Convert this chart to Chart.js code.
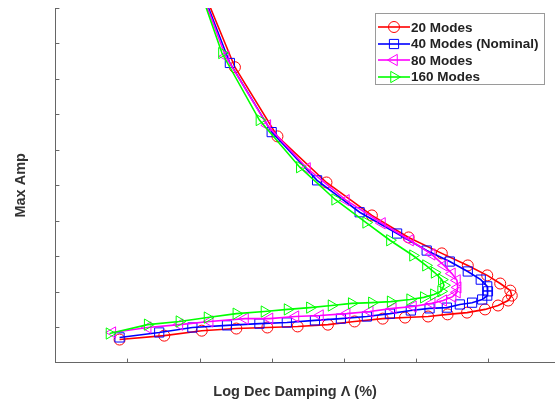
<!DOCTYPE html>
<html>
<head>
<meta charset="utf-8">
<script src="https://cdn.jsdelivr.net/npm/chart.js@4"></script>
<style>
  body { margin: 0; background: #fff; }
  #wrap { position: relative; width: 555px; height: 410px; }
  #legend {
    position: absolute; left: 375px; top: 13px; width: 170px; height: 72px;
    border: 1px solid #9a9a9a; background: #fff;
    font: bold 13.5px "Liberation Sans", Arial, sans-serif; color: #222;
    box-sizing: border-box; padding-top: 5px; white-space: nowrap;
  }
  #legend .row { display: flex; align-items: center; height: 16.5px; }
  #legend canvas { margin-left: 2px; margin-right: 1px; }
</style>
</head>
<body>
<div id="wrap">
  <canvas id="myChart" width="555" height="410"></canvas>
  <div id="legend"></div>
</div>
<script>
const seriesNames = ["20 Modes", "40 Modes (Nominal)", "80 Modes", "160 Modes"];
const seriesColors = ["#ff0000", "#0000ff", "#ff00ff", "#00ff00"];

// 20 modes
const x20 = [2.03, 2.49, 3.08, 3.76, 4.39, 4.90, 5.36, 5.72, 5.99, 6.17, 6.31, 6.33, 6.28, 6.14,
  5.96, 5.71, 5.44, 5.17, 4.85, 4.54, 4.15, 3.78, 3.36, 2.94, 2.51, 2.03, 1.51, 0.89];
const y20 = [10.6, 8.33, 6.38, 5.08, 4.15, 3.53, 3.08, 2.74, 2.46, 2.23, 2.03, 1.89, 1.75, 1.61,
  1.50, 1.41, 1.36, 1.30, 1.27, 1.24, 1.16, 1.07, 1.02, 0.99, 0.96, 0.90, 0.76, 0.65];

// 40 modes (nominal)
const x40 = [2.01, 2.42, 3.00, 3.63, 4.22, 4.74, 5.15, 5.47, 5.72, 5.90, 5.99, 6.00, 5.99, 5.92,
  5.78, 5.61, 5.43, 5.19, 4.93, 4.64, 4.32, 3.96, 3.60, 3.21, 2.83, 2.38, 1.90, 1.44, 0.89];
const y40 = [10.6, 8.45, 6.50, 5.14, 4.24, 3.64, 3.16, 2.85, 2.57, 2.34, 2.15, 2.01, 1.89, 1.78,
  1.69, 1.64, 1.55, 1.53, 1.47, 1.38, 1.30, 1.24, 1.19, 1.13, 1.10, 1.05, 0.99, 0.85, 0.71];

// 80 modes
const x80 = [2.00, 2.36, 2.94, 3.49, 4.03, 4.53, 4.92, 5.22, 5.39, 5.50, 5.57, 5.58, 5.57, 5.51,
  5.38, 5.22, 4.96, 4.68, 4.36, 4.04, 3.67, 3.33, 2.97, 2.63, 2.14, 1.72, 1.28, 0.79];
const y80 = [10.6, 8.64, 6.69, 5.48, 4.58, 3.93, 3.45, 3.05, 2.74, 2.51, 2.32, 2.12, 1.98, 1.86,
  1.75, 1.67, 1.58, 1.53, 1.44, 1.38, 1.33, 1.30, 1.24, 1.24, 1.16, 1.07, 0.99, 0.85];

// 160 modes
const x160 = [1.99, 2.31, 2.83, 3.39, 3.88, 4.31, 4.64, 4.96, 5.14, 5.26, 5.36, 5.39, 5.35, 5.25,
  5.11, 4.92, 4.65, 4.39, 4.11, 3.83, 3.53, 3.22, 2.90, 2.51, 2.11, 1.72, 1.28, 0.75];
const y160 = [10.6, 8.73, 6.84, 5.51, 4.60, 3.95, 3.45, 3.02, 2.74, 2.54, 2.34, 2.18, 2.01, 1.92,
  1.84, 1.78, 1.72, 1.69, 1.67, 1.61, 1.55, 1.50, 1.44, 1.38, 1.27, 1.16, 1.07, 0.82];

const xTicks = [1, 2, 3, 4, 5, 6];
const yTicks = [1, 2, 3, 4, 5, 6, 7, 8, 9, 10];

const markerStyles = [
  { pointStyle: "circle", radius: 5.5, rotation: 0 },
  { pointStyle: "rect", radius: 6.5, rotation: 0 },
  { pointStyle: "triangle", radius: 6.5, rotation: -90 },
  { pointStyle: "triangle", radius: 6.5, rotation: 90 },
];

const toPoints = (xs, ys) => xs.map((x, i) => ({ x: x, y: ys[i] }));
const allX = [x20, x40, x80, x160];
const allY = [y20, y40, y80, y160];

const datasets = seriesNames.map((name, i) => ({
  label: name,
  data: toPoints(allX[i], allY[i]),
  showLine: true,
  borderColor: seriesColors[i],
  borderWidth: 1.6,
  pointStyle: markerStyles[i].pointStyle,
  pointRadius: markerStyles[i].radius,
  pointRotation: markerStyles[i].rotation,
  pointBorderColor: seriesColors[i],
  pointBackgroundColor: "rgba(0,0,0,0)",
  pointBorderWidth: 1,
  order: 4 - i,
}));

// inward tick marks like the original
const innerTicks = {
  id: "innerTicks",
  afterDraw(chart) {
    const ctx = chart.ctx;
    const xs = chart.scales.x;
    const ys = chart.scales.y;
    const area = chart.chartArea;
    ctx.save();
    ctx.strokeStyle = "#666";
    ctx.lineWidth = 1;
    xTicks.forEach((v) => {
      const px = Math.round(xs.getPixelForValue(v)) + 0.5;
      ctx.beginPath();
      ctx.moveTo(px, area.bottom);
      ctx.lineTo(px, area.bottom - 4);
      ctx.stroke();
    });
    yTicks.forEach((v) => {
      const py = Math.round(ys.getPixelForValue(v)) + 0.5;
      ctx.beginPath();
      ctx.moveTo(area.left, py);
      ctx.lineTo(area.left + 4, py);
      ctx.stroke();
    });
    ctx.restore();
  },
};

const titleFont = { family: "'Liberation Sans', Arial, sans-serif", size: 14.5, weight: "bold" };

const ctx = document.getElementById("myChart").getContext("2d");
const myChart = new Chart(ctx, {
  type: "scatter",
  data: { datasets: datasets },
  options: {
    responsive: false,
    animation: false,
    layout: { autoPadding: false, padding: { left: 0, top: 8, right: 0, bottom: 0 } },
    plugins: { legend: { display: false }, tooltip: { enabled: false } },
    scales: {
      x: {
        type: "linear",
        min: 0,
        max: 6.93,
        ticks: { display: false, stepSize: 1 },
        grid: { display: false, drawTicks: false },
        border: { display: true, color: "#666", width: 1 },
        title: {
          display: true,
          // trailing spaces nudge the centred title left, as in the original
          text: "Log Dec Damping \u039B (%)\u00A0\u00A0\u00A0\u00A0\u00A0",
          color: "#333",
          font: titleFont,
          padding: { top: 21, bottom: 9 },
        },
      },
      y: {
        type: "linear",
        min: 0,
        max: 10,
        ticks: { display: false, stepSize: 1 },
        grid: { display: false, drawTicks: false },
        border: { display: true, color: "#666", width: 1 },
        title: {
          display: true,
          text: "Max Amp",
          color: "#333",
          font: titleFont,
          padding: { top: 12, bottom: 26 },
        },
      },
    },
  },
  plugins: [innerTicks],
});

// legend with line + marker samples
const legendBox = document.getElementById("legend");
seriesNames.forEach((name, i) => {
  const row = document.createElement("div");
  row.className = "row";
  const c = document.createElement("canvas");
  c.width = 32;
  c.height = 14;
  const g = c.getContext("2d");
  g.strokeStyle = seriesColors[i];
  g.fillStyle = "rgba(0,0,0,0)";
  g.lineWidth = 1.6;
  g.beginPath();
  g.moveTo(0, 7);
  g.lineTo(32, 7);
  g.stroke();
  g.lineWidth = 1;
  Chart.helpers.drawPoint(g, {
    pointStyle: markerStyles[i].pointStyle,
    rotation: markerStyles[i].rotation,
    radius: markerStyles[i].radius,
    borderWidth: 1,
  }, 16, 7);
  const span = document.createElement("span");
  span.textContent = name;
  row.appendChild(c);
  row.appendChild(span);
  legendBox.appendChild(row);
});
</script>
</body>
</html>
